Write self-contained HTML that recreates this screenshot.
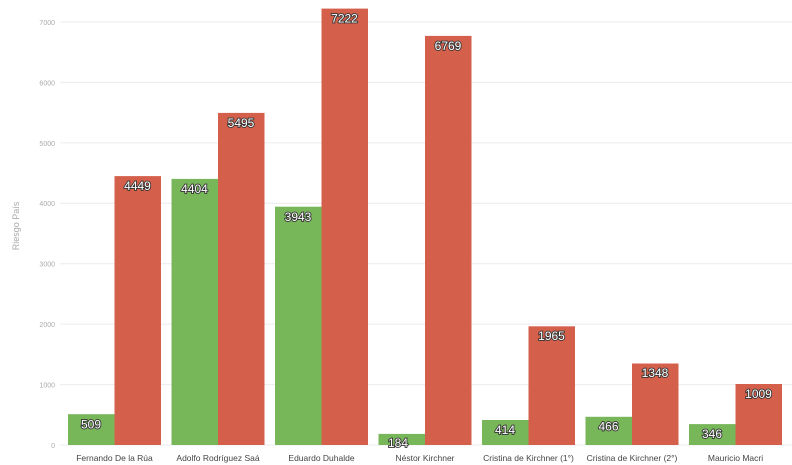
<!DOCTYPE html>
<html><head><meta charset="utf-8"><style>
html,body{margin:0;padding:0;background:#fff;}
svg{display:block;font-family:"Liberation Sans",sans-serif;}
.t{font-size:7px;fill:#aaa;text-anchor:end;}
.v{font-size:12px;fill:#fff;stroke:#333;stroke-width:1.8px;paint-order:stroke;text-anchor:middle;}
.c{font-size:8.5px;fill:#444;text-anchor:middle;}
.g{fill:#78b65a;}.r{fill:#d4604c;}
line{stroke:#ececec;stroke-width:1;}
</style></head><body>
<svg width="792" height="465" viewBox="0 0 792 465">
<line x1="60" x2="792" y1="445" y2="445"/>
<line x1="60" x2="792" y1="384.6" y2="384.6"/>
<line x1="60" x2="792" y1="324.1" y2="324.1"/>
<line x1="60" x2="792" y1="263.7" y2="263.7"/>
<line x1="60" x2="792" y1="203.3" y2="203.3"/>
<line x1="60" x2="792" y1="142.9" y2="142.9"/>
<line x1="60" x2="792" y1="82.4" y2="82.4"/>
<line x1="60" x2="792" y1="22" y2="22"/>
<text class="t" x="55" y="448">0</text>
<text class="t" x="55" y="387.5">1000</text>
<text class="t" x="55" y="327">2000</text>
<text class="t" x="55" y="266.5">3000</text>
<text class="t" x="55" y="206">4000</text>
<text class="t" x="55" y="146">5000</text>
<text class="t" x="55" y="85.5">6000</text>
<text class="t" x="55" y="25">7000</text>
<text x="19" y="226" transform="rotate(-90 19 226)" style="font-size:9px;fill:#aaa;text-anchor:middle">Riesgo País</text>

<rect class="g" x="68" y="414.2" width="46.5" height="30.8"/>
<rect class="r" x="114.5" y="176.1" width="46.5" height="268.9"/>
<rect class="g" x="171.5" y="178.9" width="46.5" height="266.1"/>
<rect class="r" x="218" y="112.9" width="46.5" height="332.1"/>
<rect class="g" x="275" y="206.7" width="46.5" height="238.3"/>
<rect class="r" x="321.5" y="8.6" width="46.5" height="436.4"/>
<rect class="g" x="378.5" y="433.9" width="46.5" height="11.1"/>
<rect class="r" x="425" y="35.9" width="46.5" height="409.1"/>
<rect class="g" x="482" y="420" width="46.5" height="25"/>
<rect class="r" x="528.5" y="326.3" width="46.5" height="118.7"/>
<rect class="g" x="585.5" y="416.8" width="46.5" height="28.2"/>
<rect class="r" x="632" y="363.5" width="46.5" height="81.5"/>
<rect class="g" x="689" y="424.1" width="46.5" height="20.9"/>
<rect class="r" x="735.5" y="384" width="46.5" height="61"/>

<text class="v" x="91" y="428.5">509</text>
<text class="v" x="137.5" y="190">4449</text>
<text class="v" x="194.5" y="193">4404</text>
<text class="v" x="241" y="127">5495</text>
<text class="v" x="298" y="221">3943</text>
<text class="v" x="344.5" y="22.5">7222</text>
<text class="v" x="398" y="447">184</text>
<text class="v" x="448" y="50">6769</text>
<text class="v" x="505" y="434">414</text>
<text class="v" x="551.5" y="340">1965</text>
<text class="v" x="608.5" y="430.5">466</text>
<text class="v" x="655" y="377">1348</text>
<text class="v" x="712" y="438">346</text>
<text class="v" x="758.5" y="398">1009</text>

<text class="c" x="114.5" y="461">Fernando De la Rúa</text>
<text class="c" x="218" y="461">Adolfo Rodríguez Saá</text>
<text class="c" x="321.5" y="461">Eduardo Duhalde</text>
<text class="c" x="425" y="461">Néstor Kirchner</text>
<text class="c" x="528.5" y="461">Cristina de Kirchner (1°)</text>
<text class="c" x="632" y="461">Cristina de Kirchner (2°)</text>
<text class="c" x="735.5" y="461">Mauricio Macri</text>
</svg>
</body></html>
